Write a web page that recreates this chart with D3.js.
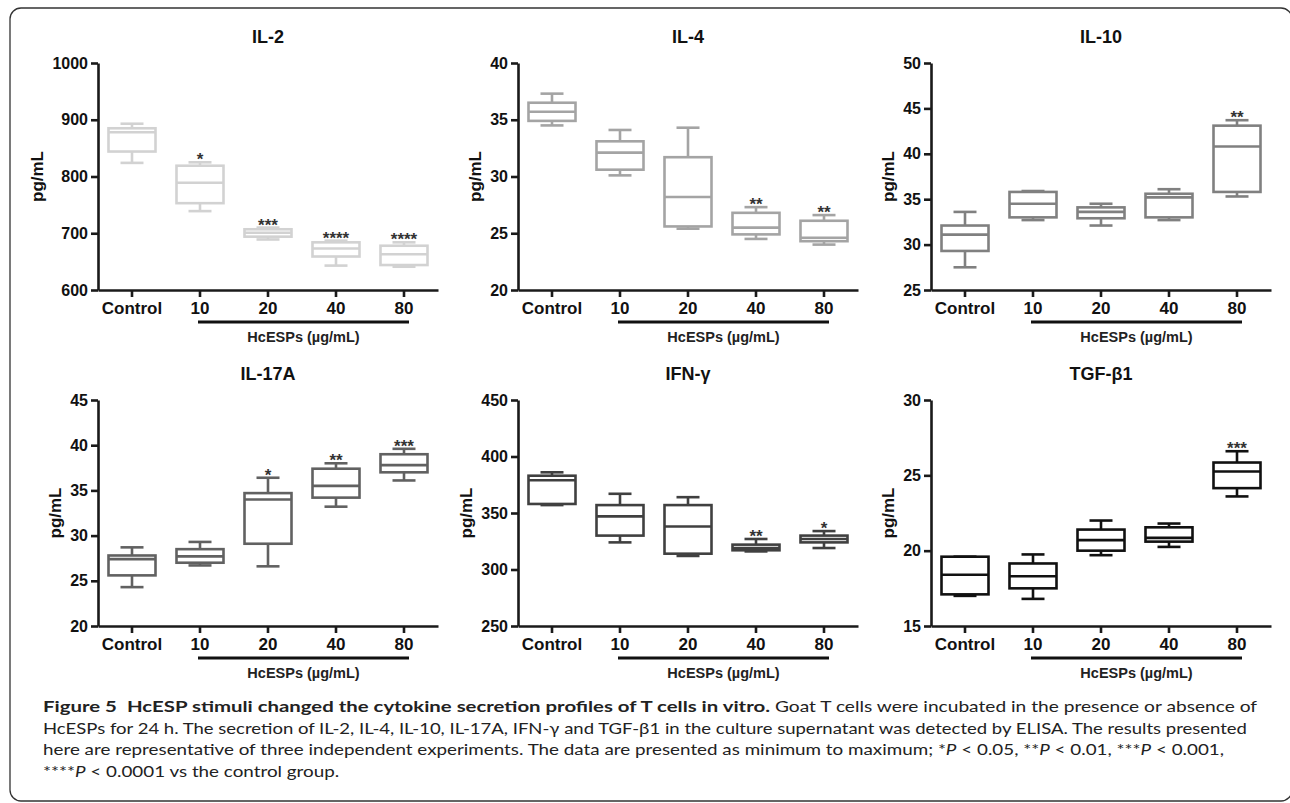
<!DOCTYPE html>
<html>
<head>
<meta charset="utf-8">
<script src="https://cdn.jsdelivr.net/npm/d3@7"></script>
<style>
  body { margin: 0; background: #fff; }
  svg { display: block; }
</style>
</head>
<body>
<div id="fig"></div>
<script>
// groups on the x axis
const groups = ["Control", "10", "20", "40", "80"];

// box values per group: [min, q1, median, q3, max]
const il2 = [[824, 844, 878, 885, 893], [739, 753, 789, 819, 825], [689, 694, 701, 707, 710], [643, 659, 673, 684, 687], [641, 644, 663, 678, 684]];
const il4 = [[34.5, 34.9, 35.7, 36.5, 37.3], [30.1, 30.6, 32.1, 33.1, 34.1], [25.4, 25.6, 28.2, 31.7, 34.3], [24.5, 24.9, 25.5, 26.8, 27.3], [24.0, 24.3, 24.6, 26.1, 26.6]];
const il10 = [[27.5, 29.3, 31.1, 32.1, 33.6], [32.7, 33.0, 34.5, 35.8, 35.9], [32.1, 32.9, 33.6, 34.1, 34.5], [32.7, 33.0, 35.2, 35.6, 36.1], [35.3, 35.8, 40.8, 43.1, 43.7]];
const il17a = [[24.3, 25.6, 27.4, 27.8, 28.7], [26.7, 27.0, 27.7, 28.5, 29.3], [26.6, 29.1, 34.0, 34.7, 36.4], [33.2, 34.2, 35.5, 37.4, 38.0], [36.1, 37.0, 37.8, 39.0, 39.6]];
const ifng = [[357, 358, 379, 383, 386], [324, 330, 347, 357, 367], [312, 314, 338, 357, 364], [316, 317, 319, 322, 327], [319, 324, 327, 330, 334]];
const tgfb1 = [[17.0, 17.1, 18.4, 19.6, 19.6], [16.8, 17.5, 18.3, 19.15, 19.75], [19.7, 20.0, 20.7, 21.4, 22.0], [20.25, 20.6, 20.85, 21.55, 21.8], [23.6, 24.15, 25.25, 25.85, 26.6]];

// significance marks
const il2Stars = ["", "*", "***", "****", "****"];
const il4Stars = ["", "", "", "**", "**"];
const il10Stars = ["", "", "", "", "**"];
const il17aStars = ["", "", "*", "**", "***"];
const ifngStars = ["", "", "", "**", "*"];
const tgfb1Stars = ["", "", "", "", "***"];

// y tick labels
const il2Ticks = [600, 700, 800, 900, 1000];
const il4Ticks = [20, 25, 30, 35, 40];
const il10Ticks = [25, 30, 35, 40, 45, 50];
const il17aTicks = [20, 25, 30, 35, 40, 45];
const ifngTicks = [250, 300, 350, 400, 450];
const tgfb1Ticks = [15, 20, 25, 30];

const W = 1290, H = 803;
const font = "Arial, 'Liberation Sans', Helvetica, sans-serif";

const svg = d3.select("#fig").append("svg")
    .attr("width", W)
    .attr("height", H);

// frame
svg.append("rect")
    .attr("x", 10).attr("y", 8)
    .attr("width", 1282).attr("height", 793)
    .attr("rx", 11)
    .attr("fill", "none")
    .attr("stroke", "#333")
    .attr("stroke-width", 1.3);

const cols = [98, 518, 931];
const rows = [[63, 290], [400, 626]];

const panels = [
    {title: "IL-2", data: il2, stars: il2Stars, ticks: il2Ticks, color: "#d2d2d2", col: 0, row: 0},
    {title: "IL-4", data: il4, stars: il4Stars, ticks: il4Ticks, color: "#a4a4a4", col: 1, row: 0},
    {title: "IL-10", data: il10, stars: il10Stars, ticks: il10Ticks, color: "#808080", col: 2, row: 0},
    {title: "IL-17A", data: il17a, stars: il17aStars, ticks: il17aTicks, color: "#616161", col: 0, row: 1},
    {title: "IFN-γ", data: ifng, stars: ifngStars, ticks: ifngTicks, color: "#404040", col: 1, row: 1},
    {title: "TGF-β1", data: tgfb1, stars: tgfb1Stars, ticks: tgfb1Ticks, color: "#111111", col: 2, row: 1}
];

panels.forEach(p => {
    const x0 = cols[p.col];
    const [top, bottom] = rows[p.row];
    const g = svg.append("g");

    const x = d3.scaleBand().domain(groups).range([x0, x0 + 340]);
    const y = d3.scaleLinear().domain(d3.extent(p.ticks)).range([bottom, top]);
    const bw = x.bandwidth();
    const boxW = 47, capW = 23;

    // axes
    const yAxis = g.append("g")
        .attr("transform", `translate(${x0},0)`)
        .call(d3.axisLeft(y).tickValues(p.ticks).tickFormat(d3.format("d"))
            .tickSize(7).tickSizeOuter(0).tickPadding(3));
    const xAxis = g.append("g")
        .attr("transform", `translate(0,${bottom})`)
        .call(d3.axisBottom(x).tickSize(7).tickSizeOuter(0).tickPadding(5));

    [yAxis, xAxis].forEach(a => {
        a.select(".domain").attr("stroke", "#1a1a1a").attr("stroke-width", 2.6);
        a.selectAll(".tick line").attr("stroke", "#1a1a1a").attr("stroke-width", 2.6);
        a.selectAll("text")
            .attr("fill", "#111")
            .style("font-family", font)
            .style("font-weight", "bold");
    });
    yAxis.selectAll("text").style("font-size", "16px");
    xAxis.selectAll("text").style("font-size", "17px").attr("dy", "0.72em");

    // boxes
    p.data.forEach((d, i) => {
        const cx = x(groups[i]) + bw / 2;
        const [mn, q1, md, q3, mx] = d;
        const b = g.append("g")
            .attr("stroke", p.color)
            .attr("stroke-width", 2.6)
            .attr("fill", "none");
        b.append("line").attr("x1", cx).attr("x2", cx).attr("y1", y(mn)).attr("y2", y(q1));
        b.append("line").attr("x1", cx).attr("x2", cx).attr("y1", y(q3)).attr("y2", y(mx));
        b.append("line").attr("x1", cx - capW / 2).attr("x2", cx + capW / 2).attr("y1", y(mn)).attr("y2", y(mn));
        b.append("line").attr("x1", cx - capW / 2).attr("x2", cx + capW / 2).attr("y1", y(mx)).attr("y2", y(mx));
        b.append("rect")
            .attr("x", cx - boxW / 2).attr("width", boxW)
            .attr("y", y(q3)).attr("height", Math.max(0.5, y(q1) - y(q3)));
        b.append("line").attr("x1", cx - boxW / 2).attr("x2", cx + boxW / 2).attr("y1", y(md)).attr("y2", y(md));

        if (p.stars[i]) {
            g.append("text")
                .attr("x", cx)
                .attr("y", y(mx) + 3)
                .attr("text-anchor", "middle")
                .attr("fill", "#333")
                .style("font-family", font)
                .style("font-weight", "bold")
                .style("font-size", "17px")
                .text(p.stars[i]);
        }
    });

    // title
    g.append("text")
        .attr("x", x0 + 170)
        .attr("y", top - 20)
        .attr("text-anchor", "middle")
        .attr("fill", "#111")
        .style("font-family", font)
        .style("font-weight", "bold")
        .style("font-size", "18px")
        .text(p.title);

    // y label
    const digits = String(d3.max(p.ticks)).length;
    const lx = x0 - (25 + 9 * digits);
    g.append("text")
        .attr("transform", `translate(${lx},${(top + bottom) / 2}) rotate(-90)`)
        .attr("text-anchor", "middle")
        .attr("dominant-baseline", "central")
        .attr("fill", "#111")
        .style("font-family", font)
        .style("font-weight", "bold")
        .style("font-size", "17px")
        .text("pg/mL");

    // HcESPs bracket
    const bx1 = x("10") + bw / 2 - 2, bx2 = x("80") + bw / 2 + 5;
    g.append("line")
        .attr("x1", bx1).attr("x2", bx2)
        .attr("y1", bottom + 32).attr("y2", bottom + 32)
        .attr("stroke", "#111")
        .attr("stroke-width", 3.2);
    g.append("text")
        .attr("x", (bx1 + bx2) / 2)
        .attr("y", bottom + 52)
        .attr("text-anchor", "middle")
        .attr("fill", "#222")
        .style("font-family", font)
        .style("font-weight", "bold")
        .style("font-size", "14.5px")
        .text("HcESPs (µg/mL)");
});

// caption
const capFont = "Lato, 'Open Sans', sans-serif";
const capX = 43;
const capY = 712, capStep = 21.7;
const cap = svg.append("g")
    .attr("fill", "#222")
    .style("font-family", capFont)
    .style("font-size", "16px");

function capLine(yy, parts, x1, x2, weight) {
    const t = cap.append("text").attr("x", x1).attr("y", yy).style("font-weight", weight || "normal");
    parts.forEach(s => {
        const ts = t.append("tspan").text(s.t);
        if (s.i) ts.style("font-style", "italic");
    });
    if (x2) t.attr("textLength", x2 - x1).attr("lengthAdjust", "spacingAndGlyphs");
    return t;
}

capLine(capY, [{t: "Figure 5\u2002HcESP stimuli changed the cytokine secretion profiles of T cells in vitro."}], capX, 770, "bold");
capLine(capY, [{t: "Goat T cells were incubated in the presence or absence of"}], 775, 1257);
capLine(capY + capStep, [{t: "HcESPs for 24 h. The secretion of IL-2, IL-4, IL-10, IL-17A, IFN-γ and TGF-β1 in the culture supernatant was detected by ELISA. The results presented"}], capX, 1247);
const l3 = capLine(capY + 2 * capStep, [
    {t: "here are representative of three independent experiments. The data are presented as minimum to maximum; *"},
    {t: "P", i: true}, {t: " < 0.05, **"}, {t: "P", i: true}, {t: " < 0.01, ***"}, {t: "P", i: true}, {t: " < 0.001,"}
], capX, null);
const l3nat = l3.node().getComputedTextLength();
const k = (1224 - capX) / l3nat;
l3.attr("textLength", 1224 - capX).attr("lengthAdjust", "spacingAndGlyphs");
const l4 = capLine(capY + 3 * capStep, [{t: "****"}, {t: "P", i: true}, {t: " < 0.0001 vs the control group."}], capX, null);
l4.attr("textLength", l4.node().getComputedTextLength() * k).attr("lengthAdjust", "spacingAndGlyphs");
</script>
</body>
</html>
